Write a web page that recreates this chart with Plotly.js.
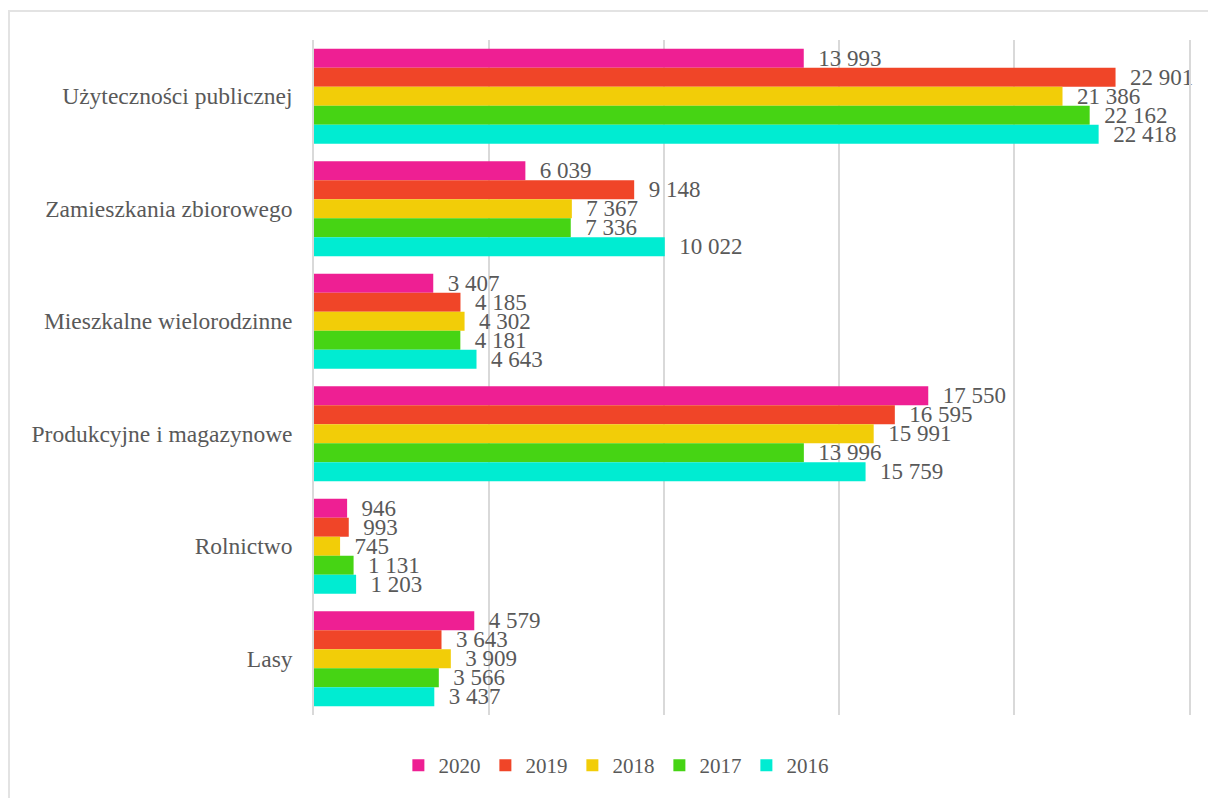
<!DOCTYPE html>
<html>
<head>
<meta charset="utf-8">
<script src="https://cdn.plot.ly/plotly-3.0.1.min.js"></script>
<style>
  html, body { margin: 0; padding: 0; background: #ffffff; }
  #chart { position: absolute; left: 0; top: 0; width: 1208px; height: 798px; }
  #frame { position: absolute; left: 8px; top: 10px; width: 1210px; height: 800px;
           border-left: 2px solid #e3e3e3; border-top: 2px solid #e3e3e3; pointer-events: none; }
</style>
</head>
<body>
<div id="chart"></div>
<div id="frame"></div>
<script>
const categories = [
  "Użyteczności publicznej",
  "Zamieszkania zbiorowego",
  "Mieszkalne wielorodzinne",
  "Produkcyjne i magazynowe",
  "Rolnictwo",
  "Lasy"
];
const years = ["2020", "2019", "2018", "2017", "2016"];
const values2020 = [13993, 6039, 3407, 17550, 946, 4579];
const values2019 = [22901, 9148, 4185, 16595, 993, 3643];
const values2018 = [21386, 7367, 4302, 15991, 745, 3909];
const values2017 = [22162, 7336, 4181, 13996, 1131, 3566];
const values2016 = [22418, 10022, 4643, 15759, 1203, 3437];
const seriesValues = [values2020, values2019, values2018, values2017, values2016];
const colors = ["#ee1f93", "#f04528", "#f2cd08", "#46d414", "#00ecd2"];

const font = "Liberation Serif, Times New Roman, serif";
const textColor = "#595959";

const traces = years.map((yr, i) => ({
  type: "bar",
  orientation: "h",
  name: yr,
  y: categories,
  x: seriesValues[i],
  marker: { color: colors[i] },
  texttemplate: "\u00a0\u00a0%{x:,}",
  textposition: "outside",
  constraintext: "none",
  cliponaxis: false,
  textfont: { family: font, size: 23, color: textColor },
  hoverinfo: "x+name"
}));

const layout = {
  width: 1208,
  height: 798,
  margin: { l: 314, r: 19, t: 40, b: 78 },
  paper_bgcolor: "#ffffff",
  plot_bgcolor: "#ffffff",
  separators: ", ",
  barmode: "group",
  bargap: 0.155,
  bargroupgap: 0,
  showlegend: true,
  font: { family: font, size: 23, color: textColor },
  xaxis: {
    range: [0, 25000],
    dtick: 5000,
    showgrid: true,
    gridcolor: "#d9d9d9",
    gridwidth: 1.5,
    zeroline: false,
    showticklabels: false,
    ticks: "",
    fixedrange: true
  },
  yaxis: {
    autorange: "reversed",
    showgrid: false,
    zeroline: false,
    showline: true,
    mirror: true,
    linecolor: "#d9d9d9",
    linewidth: 1.5,
    ticks: "",
    ticklabelstandoff: 15,
    tickfont: { family: font, size: 23.5, color: textColor },
    fixedrange: true
  },
  legend: {
    orientation: "h",
    x: 0.345,
    xanchor: "center",
    y: -0.075,
    yanchor: "middle",
    font: { family: font, size: 21, color: textColor },
    itemwidth: 30,
    traceorder: "normal"
  }
};

Plotly.newPlot("chart", traces, layout, { displayModeBar: false });
</script>
</body>
</html>
